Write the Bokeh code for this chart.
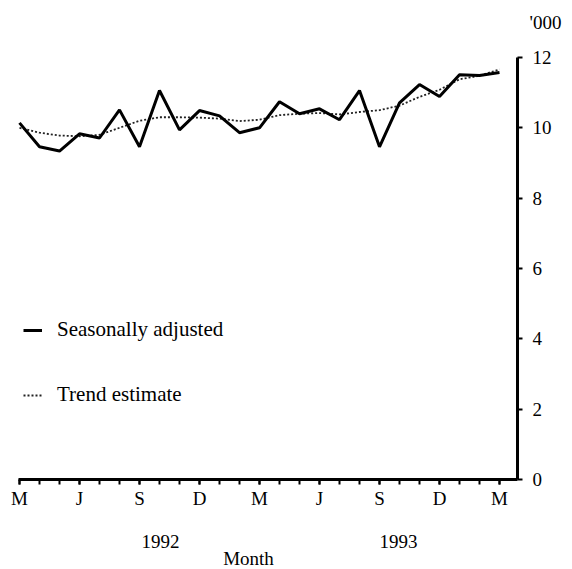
from bokeh.plotting import figure
from bokeh.models import (LinearAxis, FixedTicker, Label, Legend, LegendItem,
                          Range1d, ColumnDataSource)
from bokeh.embed import file_html
from bokeh.resources import INLINE

# months since March 1992
months = list(range(25))
seasonally_adjusted = [10.14, 9.46, 9.34, 9.83, 9.71, 10.51, 9.46, 11.06, 9.94,
                       10.49, 10.34, 9.86, 10.00, 10.74, 10.40, 10.54, 10.23,
                       11.06, 9.46, 10.71, 11.23, 10.89, 11.51, 11.49, 11.57]
trend_estimate = [10.00, 9.86, 9.78, 9.76, 9.80, 10.00, 10.20, 10.30, 10.30,
                  10.29, 10.26, 10.19, 10.23, 10.36, 10.40, 10.42, 10.38,
                  10.45, 10.50, 10.63, 10.88, 11.08, 11.38, 11.48, 11.66]

tick_months = [0, 3, 6, 9, 12, 15, 18, 21, 24]
tick_labels = ["M", "J", "S", "D", "M", "J", "S", "D", "M"]
y_ticks = [0, 2, 4, 6, 8, 10, 12]
year_labels = ["1992", "1993"]
year_pos = [7.05, 18.95]

FONT = "Liberation Serif"
FS = "19px"
X_END = 24.9  # where the x axis meets the value axis

src = ColumnDataSource(dict(m=months, sa=seasonally_adjusted, tr=trend_estimate))

# frame covers the whole canvas, axes sit inside it via fixed_location
p = figure(width=572, height=569, output_backend="svg", toolbar_location=None,
           x_range=Range1d(-0.95, 27.65), y_range=Range1d(-2.56, 13.62),
           min_border=0, x_axis_location=None, y_axis_location=None)
p.outline_line_color = None
p.xgrid.visible = False
p.ygrid.visible = False

# x axis: M J S D
xa = LinearAxis(ticker=FixedTicker(ticks=tick_months, minor_ticks=months),
                fixed_location=0, bounds=(-0.05, X_END))
xa.major_label_overrides = {m: t for m, t in zip(tick_months, tick_labels)}
xa.axis_line_width = 3
xa.major_tick_in = 0
xa.major_tick_out = 5
xa.minor_tick_in = 0
xa.minor_tick_out = 5
xa.major_tick_line_width = 2
xa.minor_tick_line_width = 2
xa.major_label_standoff = 4
xa.major_label_text_font = FONT
xa.major_label_text_font_size = FS
xa.major_label_text_color = "black"
p.add_layout(xa, "below")

# value axis on the right
ya = LinearAxis(ticker=FixedTicker(ticks=y_ticks), fixed_location=X_END,
                bounds=(0, 12))
ya.axis_line_width = 3
ya.major_tick_in = 0
ya.major_tick_out = 5
ya.major_tick_line_width = 2
ya.minor_tick_line_color = None
ya.major_label_standoff = 10
ya.major_label_text_font = FONT
ya.major_label_text_font_size = FS
ya.major_label_text_color = "black"
p.add_layout(ya, "right")

# lines
r_tr = p.line("m", "tr", source=src, line_color="#222222", line_width=1.8,
              line_dash="2 2")
r_sa = p.line("m", "sa", source=src, line_color="black", line_width=3)

legend = Legend(items=[LegendItem(label="Seasonally adjusted", renderers=[r_sa]),
                       LegendItem(label="Trend estimate", renderers=[r_tr])],
                location=(23, 162), orientation="vertical")
legend.border_line_alpha = 0
legend.background_fill_alpha = 0
legend.padding = 0
legend.margin = 0
legend.spacing = 40
legend.glyph_width = 19
legend.glyph_height = 20
legend.label_height = 20
legend.label_standoff = 15
legend.label_text_font = FONT
legend.label_text_font_size = "21px"
legend.label_text_color = "black"
p.add_layout(legend, "center")

# texts
p.add_layout(Label(x=26.3, y=12.99, text="'000", text_font=FONT,
                   text_font_size=FS, text_color="black", text_align="center",
                   text_baseline="middle"))
for yl, xp in zip(year_labels, year_pos):
    p.add_layout(Label(x=xp, y=-1.75, text=yl, text_font=FONT,
                       text_font_size=FS, text_color="black",
                       text_align="center", text_baseline="middle"))
p.add_layout(Label(x=11.45, y=-2.25, text="Month", text_font=FONT,
                   text_font_size=FS, text_color="black", text_align="center",
                   text_baseline="middle"))

open("out.html", "w").write(file_html(p, INLINE))
